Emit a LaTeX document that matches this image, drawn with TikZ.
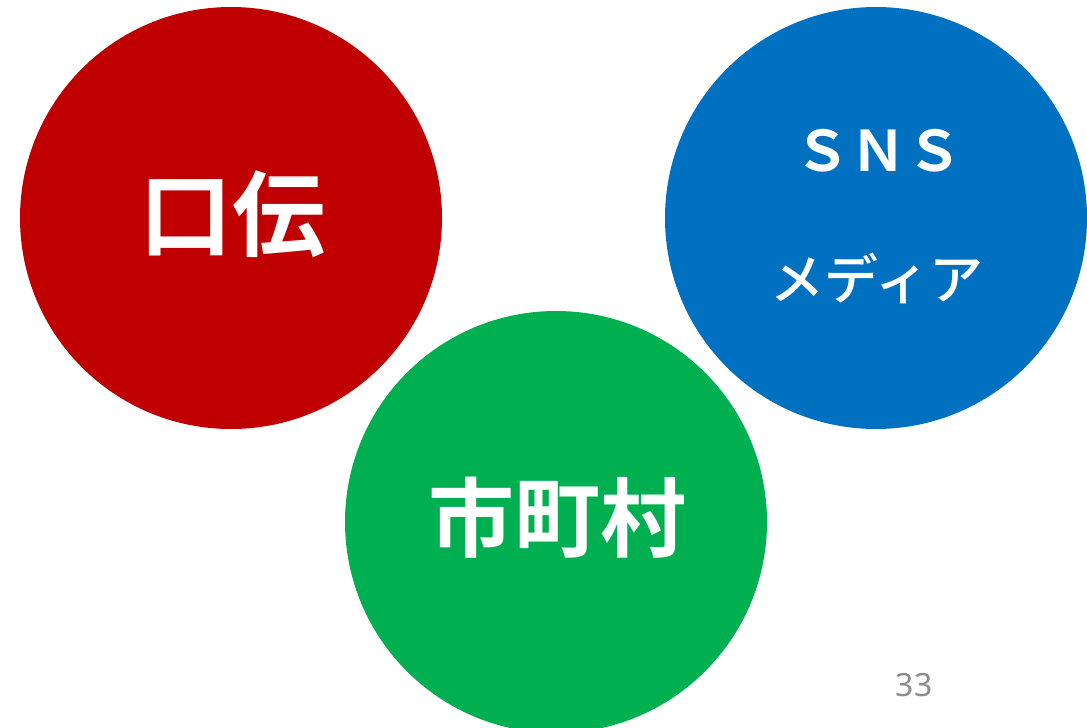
\documentclass[tikz,border=0pt]{standalone}
\usepackage{fontspec}
\newfontfamily\jpb{Noto Sans CJK JP Bold}
\newfontfamily\jpm{Noto Sans CJK JP Medium}
\newfontfamily\numf{Noto Sans}
\definecolor{cred}{HTML}{C00000}
\definecolor{cblue}{HTML}{0070C0}
\definecolor{cgreen}{HTML}{00B050}
\definecolor{cgray}{HTML}{8C8C8C}
\begin{document}
\begin{tikzpicture}[x=1pt,y=-1pt,
  disc/.style={circle,minimum size=422pt,inner sep=0pt,text=white}]
\useasboundingbox (0,0) rectangle (1087,728);
\begin{scope}
\clip (0,0) rectangle (1087,728);
\node[disc,fill=cred] (red) at (231,218) {};
\node[disc,fill=cblue] (blue) at (876,218) {};
\node[disc,fill=cgreen] (green) at (556,522) {};
\end{scope}
\node[text=white,font=\jpb\fontsize{93}{93}\selectfont] (kuden) at (232,214) {口伝};
\node[text=white,font=\jpb\fontsize{86}{86}\selectfont] (shichoson) at (557,518) {市町村};
\node[text=white,font=\jpb\fontsize{56}{56}\selectfont] (sns) at (878,151) {ＳＮＳ};
\node[text=white,font=\jpm\fontsize{54}{54}\selectfont] (media) at (877,278) {メディア};
\node[text=cgray,font=\numf\fontsize{32}{32}\selectfont] (page) at (914,685) {33};
\end{tikzpicture}
\end{document}
